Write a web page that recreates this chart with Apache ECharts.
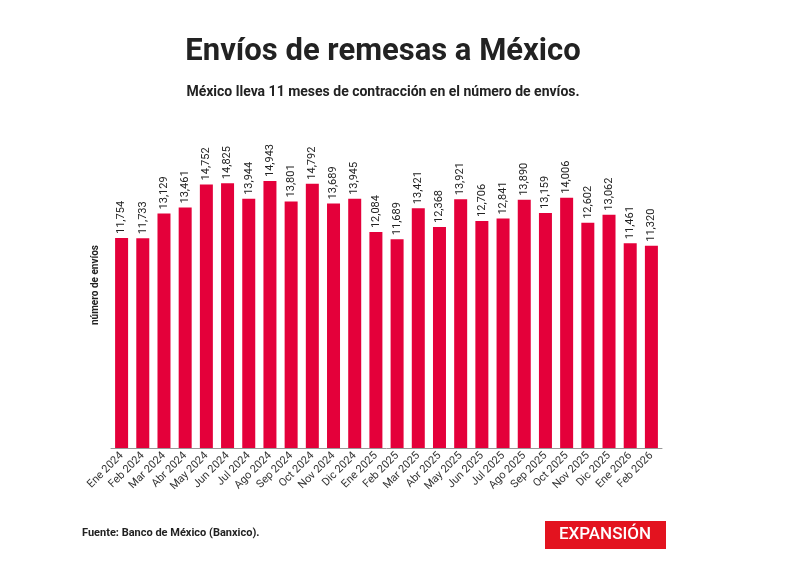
<!DOCTYPE html>
<html><head><meta charset="utf-8">
<script src="https://cdn.jsdelivr.net/npm/echarts@6/dist/echarts.min.js"></script>
<style>body{margin:0;background:#fff}#c{width:800px;height:578px}</style>
</head><body><div id="c"></div>
<script>
const categories=["Ene 2024","Feb 2024","Mar 2024","Abr 2024","May 2024","Jun 2024","Jul 2024","Ago 2024","Sep 2024","Oct 2024","Nov 2024","Dic 2024","Ene 2025","Feb 2025","Mar 2025","Abr 2025","May 2025","Jun 2025","Jul 2025","Ago 2025","Sep 2025","Oct 2025","Nov 2025","Dic 2025","Ene 2026","Feb 2026"];
const envios=[11754,11733,13129,13461,14752,14825,13944,14943,13801,14792,13689,13945,12084,11689,13421,12368,13921,12706,12841,13890,13159,14006,12602,13062,11461,11320];
const chart=echarts.init(document.getElementById('c'));
const F='Roboto, Arial, sans-serif';
chart.setOption({
  title:[{text:'Envíos de remesas a México',left:378,top:32,textAlign:'center',textStyle:{fontFamily:F,fontSize:31,fontWeight:'bold',color:'#222'}},
         {text:'México lleva 11 meses de contracción en el número de envíos.',left:378,top:80,textAlign:'center',textStyle:{fontFamily:F,fontSize:14,fontWeight:'bold',color:'#222'}}],
  graphic:[
    {type:'text',left:82,top:528,style:{text:'Fuente: Banco de México (Banxico).',font:'bold 11px Roboto, Arial',fill:'#222'}},
    {type:'rect',shape:{x:545,y:521,width:121,height:28},style:{fill:'#e3131f'}},
    {type:'text',x:605,y:535,style:{text:'EXPANSIÓN',font:'500 17px Roboto, Arial',fill:'#fff',textAlign:'center',textVerticalAlign:'middle'}},
    {type:'text',x:95,y:285,rotation:Math.PI/2,style:{text:'número de envíos',font:'bold 10px Roboto, Arial',fill:'#222',textAlign:'center',textVerticalAlign:'middle'}}
  ],
  grid:{left:111,right:138,top:180,bottom:130},
  xAxis:{type:'category',data:categories,axisTick:{show:false},axisLine:{lineStyle:{color:'#999'}},
    axisLabel:{rotate:45,fontFamily:F,fontSize:11,color:'#333',interval:0,margin:6}},
  yAxis:{type:'value',min:0,max:15000,show:false},
  series:[{type:'bar',data:envios,barWidth:13,itemStyle:{color:'#e4003a'},
    label:{show:true,position:'top',rotate:90,align:'left',verticalAlign:'middle',distance:4,fontFamily:F,fontSize:11,color:'#222',
      formatter:p=>p.value.toLocaleString('en-US')}}]
});
</script></body></html>
